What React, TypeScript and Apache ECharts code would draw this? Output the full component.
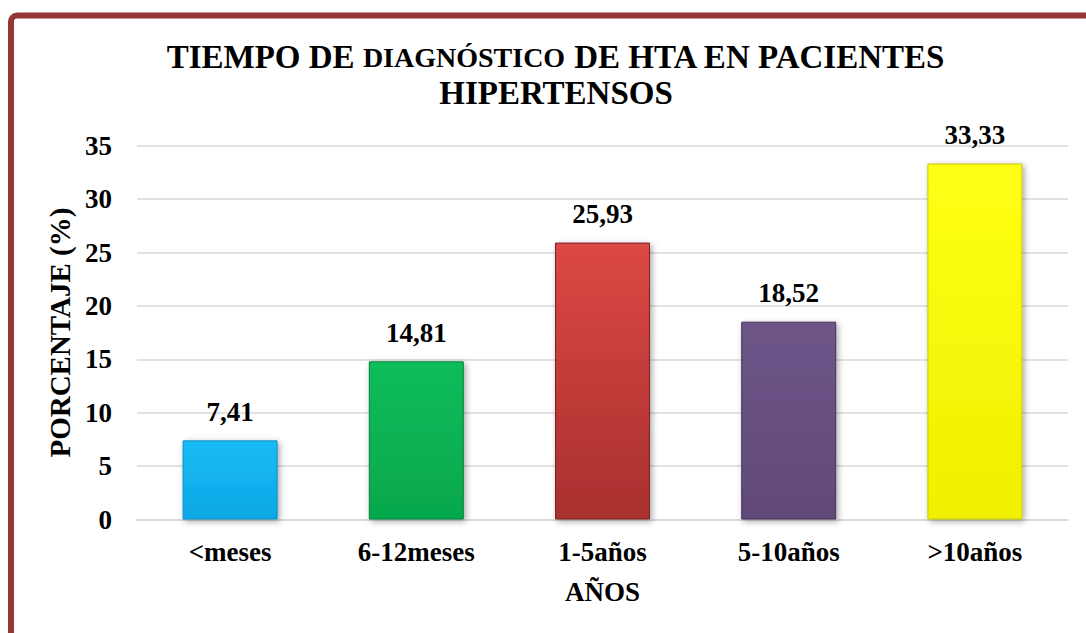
import React, { useEffect, useRef } from "react";
import * as echarts from "echarts";

const categories = ["<meses", "6-12meses", "1-5años", "5-10años", ">10años"];
const values = [7.41, 14.81, 25.93, 18.52, 33.33];
const yTicks = { min: 0, max: 35, interval: 5 };
const barTop = ["#1ABCF5", "#0CBC5A", "#DC4845", "#6E5589", "#FFFF14"];
const barBottom = ["#0AA8E6", "#06A84C", "#A8302D", "#614979", "#F0F000"];
const barEdge = ["#0A8CC0", "#04803A", "#7A2020", "#44335A", "#C8C800"];

const FONT = "Liberation Serif";

export default function App() {
  const ref = useRef<HTMLDivElement>(null);
  useEffect(() => {
    if (!ref.current) return;
    const chart = echarts.init(ref.current, undefined, { renderer: "svg" });
    const data = values.map((v, i) => ({
      value: v,
      itemStyle: {
        color: new echarts.graphic.LinearGradient(0, 0, 0, 1, [
          { offset: 0, color: barTop[i] },
          { offset: 1, color: barBottom[i] },
        ]),
        borderColor: barEdge[i],
        borderWidth: 1,
        shadowColor: "rgba(0,0,0,0.35)",
        shadowBlur: 6,
        shadowOffsetX: 2,
        shadowOffsetY: 2,
      },
    }));
    chart.setOption({
      animation: false,
      backgroundColor: "#ffffff",
      textStyle: { fontFamily: FONT },
      title: {
        left: 551,
        top: 34,
        textAlign: "center",
        text:
          "{a|TIEMPO DE }{b|DIAGNÓSTICO}{a| DE HTA EN PACIENTES}\n{a|HIPERTENSOS}",
        textStyle: {
          fontFamily: FONT,
          rich: {
            a: {
              fontFamily: FONT,
              fontWeight: "bold",
              fontSize: 33,
              lineHeight: 36,
              color: "#000",
            },
            b: {
              fontFamily: FONT,
              fontWeight: "bold",
              fontSize: 28,
              lineHeight: 36,
              color: "#000",
            },
          },
        },
      },
      graphic: [
        {
          type: "rect",
          shape: { x: 11, y: 15.5, width: 1200, height: 800, r: 6 },
          style: { fill: "none", stroke: "#953735", lineWidth: 6 },
          z: 100,
        },
      ],
      grid: { left: 137, right: 18, top: 145.7, bottom: 113.5, containLabel: false },
      xAxis: {
        type: "category",
        data: categories,
        name: "AÑOS",
        nameLocation: "middle",
        nameGap: 59,
        nameTextStyle: { fontFamily: FONT, fontWeight: "bold", fontSize: 27, color: "#000" },
        axisLine: { show: true, lineStyle: { color: "#D9D9D9", width: 1.5 } },
        axisTick: { show: false },
        axisLabel: { fontFamily: FONT, fontWeight: "bold", fontSize: 27, color: "#000", margin: 19 },
      },
      yAxis: {
        type: "value",
        min: yTicks.min,
        max: yTicks.max,
        interval: yTicks.interval,
        name: "PORCENTAJE (%)",
        nameLocation: "middle",
        nameGap: 58,
        nameTextStyle: { fontFamily: FONT, fontWeight: "bold", fontSize: 29, color: "#000" },
        axisLine: { show: false },
        axisTick: { show: false },
        splitLine: { lineStyle: { color: "#D9D9D9", width: 1.5 } },
        axisLabel: { fontFamily: FONT, fontWeight: "bold", fontSize: 27, color: "#000", margin: 25 },
      },
      series: [
        {
          type: "bar",
          data,
          barWidth: "51%",
          label: {
            show: true,
            position: "top",
            distance: 15,
            fontFamily: FONT,
            fontWeight: "bold",
            fontSize: 27,
            color: "#000",
            formatter: (p: any) => Number(p.value).toFixed(2).replace(".", ","),
          },
        },
      ],
    });
    return () => chart.dispose();
  }, []);
  return (
    <div
      ref={ref}
      style={{ position: "fixed", left: 0, top: 0, width: 1086, height: 633 }}
    />
  );
}
